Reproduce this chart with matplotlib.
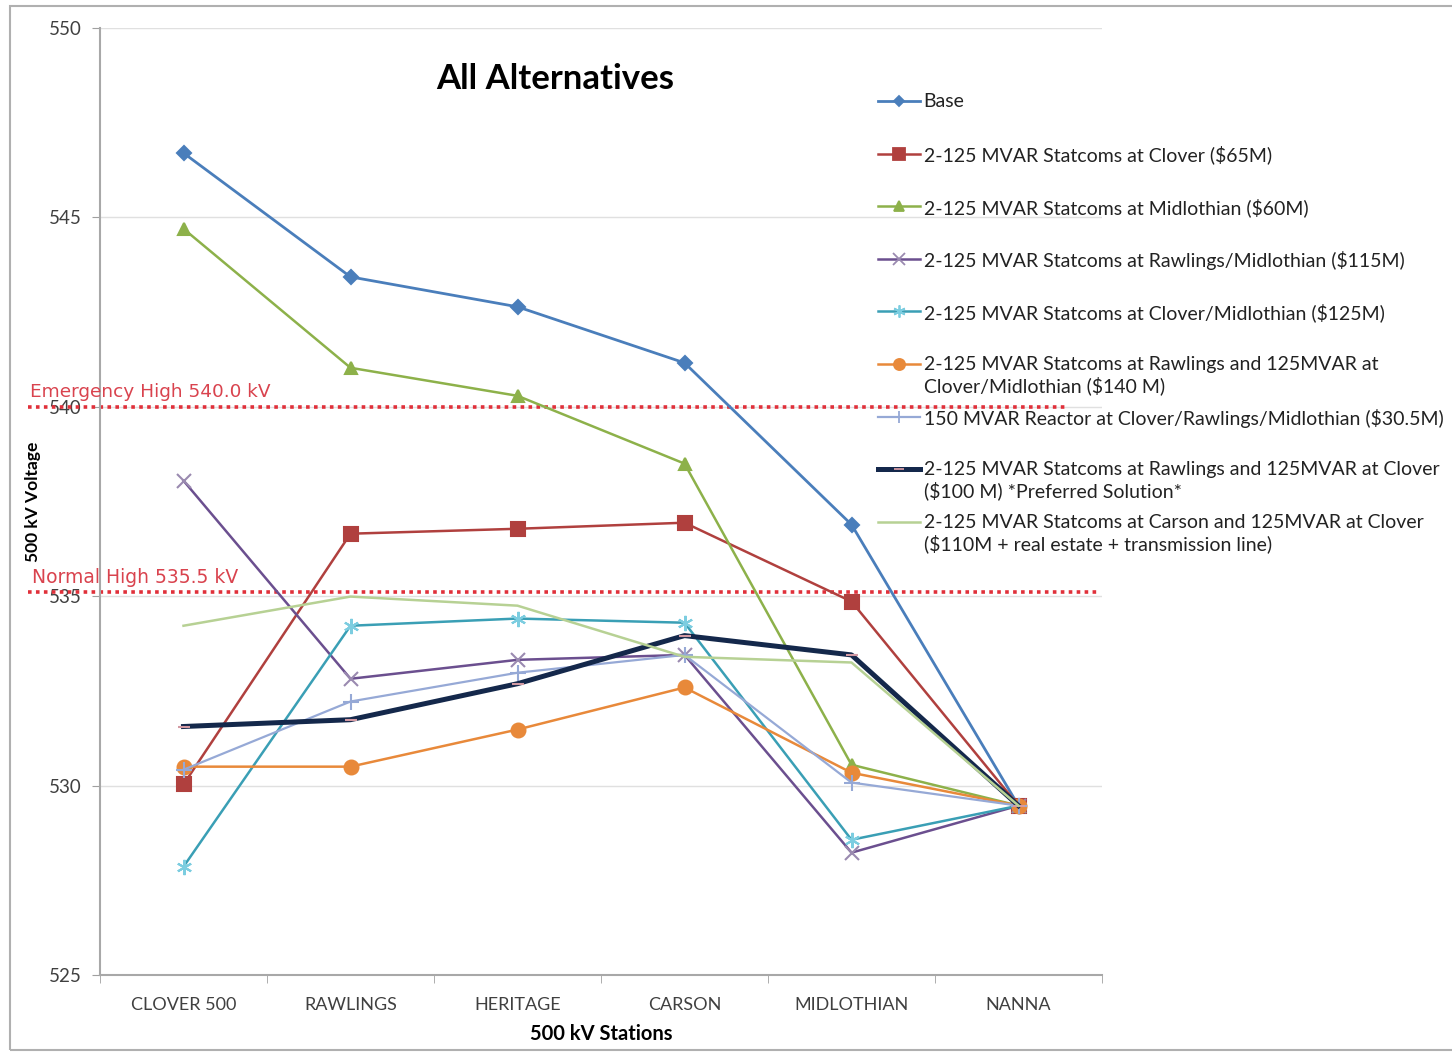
import matplotlib
matplotlib.use("Agg")
import matplotlib.pyplot as plt
import matplotlib.transforms as mtransforms
from matplotlib.lines import Line2D
from matplotlib.patches import Rectangle

stations = ["CLOVER 500", "RAWLINGS", "HERITAGE", "CARSON", "MIDLOTHIAN", "NANNA"]

base = [546.7, 543.43, 542.64, 541.16, 536.89, 529.47]
clover = [530.03, 536.65, 536.78, 536.94, 534.86, 529.47]
midlothian = [544.7, 541.03, 540.29, 538.5, 530.55, 529.47]
rawl_mid = [538.05, 532.82, 533.32, 533.45, 528.23, 529.47]
clover_mid = [527.86, 534.22, 534.41, 534.3, 528.57, 529.47]
rawl_clover_mid = [530.5, 530.5, 531.48, 532.59, 530.34, 529.47]
reactor = [530.42, 532.22, 532.98, 533.45, 530.08, 529.47]
preferred = [531.56, 531.74, 532.69, 533.96, 533.45, 529.47]
carson = [534.22, 534.99, 534.75, 533.4, 533.25, 529.47]

labels = [
    "Base",
    "2-125 MVAR Statcoms at Clover ($65M)",
    "2-125 MVAR Statcoms at Midlothian ($60M)",
    "2-125 MVAR Statcoms at Rawlings/Midlothian ($115M)",
    "2-125 MVAR Statcoms at Clover/Midlothian ($125M)",
    "2-125 MVAR Statcoms at Rawlings and 125MVAR at\nClover/Midlothian ($140 M)",
    "150 MVAR Reactor at Clover/Rawlings/Midlothian ($30.5M)",
    "2-125 MVAR Statcoms at Rawlings and 125MVAR at Clover\n($100 M) *Preferred Solution*",
    "2-125 MVAR Statcoms at Carson and 125MVAR at Clover\n($110M + real estate + transmission line)",
]

emergency_high = 540.0
normal_high = 535.1

series = [base, clover, midlothian, rawl_mid, clover_mid,
          rawl_clover_mid, reactor, preferred, carson]

# colour, marker, marker size, line width, marker colour
styles = [
    ("#4a7ebb", "D", 7, 2.0, "#4a7ebb"),
    ("#b0403e", "s", 10, 1.8, "#b0403e"),
    ("#8db14a", "^", 9, 1.8, "#8db14a"),
    ("#6b4f8f", "x", 10, 1.8, "#9a8ab0"),
    ("#3a9fb5", (6, 2, 0), 11, 1.8, "#7ccde0"),
    ("#e8893a", "o", 10, 1.8, "#e8893a"),
    ("#96a9d6", "+", 11, 1.6, "#96a9d6"),
    ("#14284b", "_", 9, 3.6, "#d39aa3"),
    ("#b7d194", "None", 0, 1.8, "#b7d194"),
]

plt.rcParams['font.family'] = ['Lato', 'DejaVu Sans']

fig = plt.figure(figsize=(14.52, 10.58), dpi=100)
ax = fig.add_axes([100 / 1452, 1 - 975 / 1058, 1002 / 1452, 947 / 1058])

x = list(range(len(stations)))
for vals, (c, m, ms, lw, mc) in zip(series, styles):
    ax.plot(x, vals, color=c, lw=lw, marker=m, markersize=ms,
            markerfacecolor=mc, markeredgecolor=mc, markeredgewidth=1.5,
            zorder=3)

ax.set_xlim(-0.5, len(stations) - 0.5)
ax.set_ylim(525, 550)
ax.set_yticks([525, 530, 535, 540, 545, 550])
ax.set_xticks(x)
ax.set_xticklabels(stations, fontsize=13, color="#404040")
ax.set_xticks([i - 0.5 for i in range(len(stations) + 1)], minor=True)
ax.tick_params(axis="x", which="major", length=0, pad=16)
ax.tick_params(axis="x", which="minor", length=6, color="#a0a0a0", direction="out")
ax.tick_params(axis="y", length=6, color="#a0a0a0", direction="out",
               labelsize=13.5, labelcolor="#404040", pad=7)
ax.grid(axis="y", color="#e0e0e0", lw=1)
ax.set_axisbelow(True)
for s in ["top", "right"]:
    ax.spines[s].set_visible(False)
for s in ["left", "bottom"]:
    ax.spines[s].set_color("#a8a8a8")
    ax.spines[s].set_linewidth(1.5)

ax.set_xlabel("500 kV Stations", fontsize=14.5, fontweight="bold", labelpad=8)
ax.set_ylabel("500 kV Voltage", fontsize=12.5, fontweight="bold")
ax.yaxis.set_label_coords(-0.059, 0.5)

# limit lines
trans = mtransforms.blended_transform_factory(ax.transAxes, ax.transData)
ax.plot([-0.072, 0.965], [emergency_high, emergency_high], transform=trans,
        color="#e0303a", ls=(0, (1, 1.2)), lw=2.6, clip_on=False, zorder=2)
ax.plot([-0.072, 0.998], [normal_high, normal_high], transform=trans,
        color="#e0303a", ls=(0, (1, 1.2)), lw=2.6, clip_on=False, zorder=2)
ax.text(-0.07, emergency_high + 0.15, "Emergency High 540.0 kV", transform=trans,
        color="#d9434e", fontsize=13.3, family="DejaVu Sans", va="bottom")
ax.text(-0.068, normal_high + 0.15, "Normal High 535.5 kV", transform=trans,
        color="#d9434e", fontsize=13.5, family="DejaVu Sans", va="bottom")

ax.text(0.454, 0.946, "All Alternatives", transform=ax.transAxes, ha="center",
        va="center", fontsize=25, fontweight="bold")

# legend drawn by hand so every entry gets the same slot height
ly0 = (975 - 101) / 947
dy = 52.6 / 947
for i, (lab, (c, m, ms, lw, mc)) in enumerate(zip(labels, styles)):
    yy = ly0 - i * dy
    ax.add_line(Line2D([0.776, 0.818], [yy, yy], transform=ax.transAxes,
                       color=c, lw=lw, clip_on=False))
    ax.add_line(Line2D([0.797], [yy], transform=ax.transAxes, marker=m,
                       markersize=ms * 0.8, markerfacecolor=mc,
                       markeredgecolor=mc, markeredgewidth=1.3, clip_on=False))
    ax.text(0.822, yy + 0.0085, lab, transform=ax.transAxes, fontsize=14,
            color="#222222", va="top", ha="left", linespacing=1.2)

fig.patches.append(Rectangle((10 / 1452, 1 - 1050 / 1058), 1.1, 1044 / 1058,
                             transform=fig.transFigure, fill=False,
                             edgecolor="#b0b0b0", lw=1.5))

fig.savefig("out.png", dpi=100)
